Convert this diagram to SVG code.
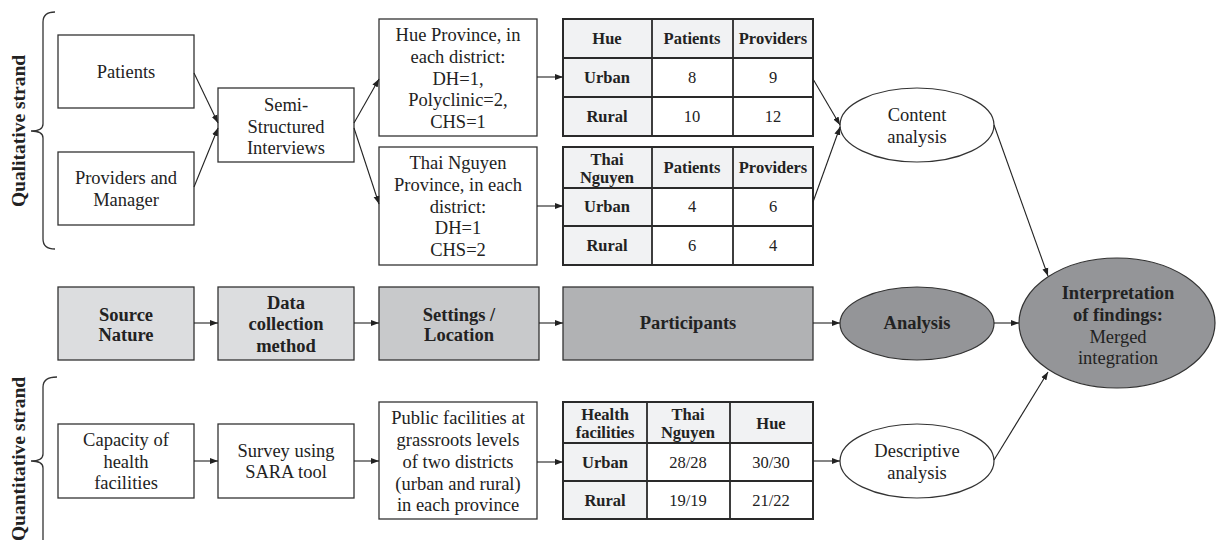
<svg xmlns="http://www.w3.org/2000/svg" width="1216" height="540" viewBox="0 0 1216 540">
<style>
text{font-family:"Liberation Serif","Times New Roman",serif;fill:#222;text-anchor:middle}
.t{font-size:18.5px}
.b{font-size:18.5px;font-weight:bold}
.th{font-size:16.5px;font-weight:bold}
.td{font-size:16.5px}
.side{font-size:19.5px;font-weight:bold}
.box{fill:#fff;stroke:#333;stroke-width:1.3}
.g1{fill:#dcdddf;stroke:#333;stroke-width:1.3}
.g2{fill:#c8c9cb;stroke:#333;stroke-width:1.3}
.g3{fill:#b1b2b4;stroke:#333;stroke-width:1.3}
.ell{fill:#fff;stroke:#333;stroke-width:1.2}
.dark{fill:#949598;stroke:#333;stroke-width:1.2}
.tbl{fill:#fff;stroke:#2a2a2a;stroke-width:2}
.sh{fill:#f1f2f3}
.grid{stroke:#2a2a2a;stroke-width:1.8;fill:none}
.con line{stroke:#222;stroke-width:1.1;marker-end:url(#ah)}
.brace{fill:none;stroke:#333;stroke-width:1.3}
</style>
<defs>
<marker id="ah" markerWidth="8" markerHeight="7" refX="8" refY="3.5" orient="auto" markerUnits="userSpaceOnUse">
<path d="M0,0.5 L8,3.5 L0,6.5 Z" fill="#222"/>
</marker>
</defs>
<rect width="1216" height="540" fill="#fff"/>

<g id="qual-brace">
<path class="brace" d="M55,12 Q43,12 43,22 L43,124 Q43,131 31,131 Q43,131 43,138 L43,239 Q43,249 55,249"/>
<text class="side" transform="translate(25,131) rotate(-90)">Qualitative strand</text>
</g>
<g id="quant-brace">
<path class="brace" d="M57,377 Q43,377 43,387 L43,454 Q43,461 31,461 Q43,461 43,468 L43,545"/>
<text class="side" transform="translate(25,459) rotate(-90)">Quantitative strand</text>
</g>

<g id="patients"><rect class="box" x="58" y="35" width="136" height="73"/><text class="t" x="126" y="78">Patients</text></g>
<g id="providers"><rect class="box" x="58" y="152" width="136" height="73"/><text class="t" x="126" y="184">Providers and</text><text class="t" x="126" y="206">Manager</text></g>
<g id="semi"><rect class="box" x="218" y="88" width="136" height="74"/><text class="t" x="286" y="111">Semi-</text><text class="t" x="286" y="133">Structured</text><text class="t" x="286" y="154">Interviews</text></g>
<g id="hue-box"><rect class="box" x="379" y="19" width="158" height="117"/>
<text class="t" x="458" y="41">Hue Province, in</text><text class="t" x="458" y="63">each district:</text><text class="t" x="458" y="85">DH=1,</text><text class="t" x="458" y="106">Polyclinic=2,</text><text class="t" x="458" y="128">CHS=1</text></g>
<g id="thai-box"><rect class="box" x="379" y="147" width="158" height="118"/>
<text class="t" x="458" y="169">Thai Nguyen</text><text class="t" x="458" y="191">Province, in each</text><text class="t" x="458" y="213">district:</text><text class="t" x="458" y="234">DH=1</text><text class="t" x="458" y="256">CHS=2</text></g>

<g id="hue-table">
<rect class="tbl" x="563" y="19" width="250" height="117"/>
<rect class="sh" x="564" y="20" width="248" height="38"/><rect class="sh" x="564" y="58" width="88" height="77"/>
<path class="grid" d="M563,19 H813 V136 H563 Z M652,19 V136 M733,19 V136 M563,58 H813 M563,97 H813"/>
<text class="th" x="607" y="44">Hue</text><text class="th" x="692" y="44">Patients</text><text class="th" x="773" y="44">Providers</text>
<text class="th" x="607" y="83">Urban</text><text class="td" x="692" y="83">8</text><text class="td" x="773" y="83">9</text>
<text class="th" x="607" y="122">Rural</text><text class="td" x="692" y="122">10</text><text class="td" x="773" y="122">12</text>
</g>
<g id="thai-table">
<rect class="tbl" x="563" y="147" width="250" height="118"/>
<rect class="sh" x="564" y="148" width="248" height="40"/><rect class="sh" x="564" y="188" width="88" height="76"/>
<path class="grid" d="M563,147 H813 V265 H563 Z M652,147 V265 M733,147 V265 M563,188 H813 M563,226 H813"/>
<text class="th" x="607" y="165">Thai</text><text class="th" x="607" y="183">Nguyen</text><text class="th" x="692" y="173">Patients</text><text class="th" x="773" y="173">Providers</text>
<text class="th" x="607" y="212">Urban</text><text class="td" x="692" y="212">4</text><text class="td" x="773" y="212">6</text>
<text class="th" x="607" y="251">Rural</text><text class="td" x="692" y="251">6</text><text class="td" x="773" y="251">4</text>
</g>
<g id="content"><ellipse class="ell" cx="917" cy="125" rx="77" ry="37"/><text class="t" x="917" y="121">Content</text><text class="t" x="917" y="143">analysis</text></g>

<g id="source"><rect class="g1" x="58" y="287" width="136" height="73"/><text class="b" x="126" y="321">Source</text><text class="b" x="126" y="341">Nature</text></g>
<g id="data"><rect class="g1" x="218" y="287" width="136" height="73"/><text class="b" x="286" y="309">Data</text><text class="b" x="286" y="330">collection</text><text class="b" x="286" y="352">method</text></g>
<g id="settings"><rect class="g2" x="379" y="287" width="160" height="73"/><text class="b" x="459" y="321">Settings /</text><text class="b" x="459" y="341">Location</text></g>
<g id="participants"><rect class="g3" x="563" y="287" width="250" height="73"/><text class="b" x="688" y="329">Participants</text></g>
<g id="analysis"><ellipse class="dark" cx="917" cy="323.5" rx="77" ry="36.5"/><text class="b" x="917" y="329">Analysis</text></g>
<g id="interpretation"><ellipse class="dark" cx="1117" cy="323" rx="98" ry="65"/>
<text class="b" x="1118" y="299">Interpretation</text><text class="b" x="1118" y="321">of findings:</text><text class="t" x="1118" y="343">Merged</text><text class="t" x="1118" y="364">integration</text></g>

<g id="capacity"><rect class="box" x="58" y="424" width="136" height="74"/><text class="t" x="126" y="446">Capacity of</text><text class="t" x="126" y="468">health</text><text class="t" x="126" y="489">facilities</text></g>
<g id="survey"><rect class="box" x="218" y="424" width="136" height="74"/><text class="t" x="286" y="457">Survey using</text><text class="t" x="286" y="478">SARA tool</text></g>
<g id="public"><rect class="box" x="379" y="402" width="158" height="117"/>
<text class="t" x="458" y="424">Public facilities at</text><text class="t" x="458" y="446">grassroots levels</text><text class="t" x="458" y="468">of two districts</text><text class="t" x="458" y="490">(urban and rural)</text><text class="t" x="458" y="511">in each province</text></g>
<g id="facility-table">
<rect class="tbl" x="563" y="402" width="250" height="117"/>
<rect class="sh" x="564" y="403" width="248" height="40"/><rect class="sh" x="564" y="443" width="83" height="75"/>
<path class="grid" d="M563,402 H813 V519 H563 Z M647,402 V519 M730,402 V519 M563,443 H813 M563,481 H813"/>
<text class="th" x="605" y="420">Health</text><text class="th" x="605" y="438">facilities</text>
<text class="th" x="688" y="420">Thai</text><text class="th" x="688" y="438">Nguyen</text>
<text class="th" x="771" y="429">Hue</text>
<text class="th" x="605" y="468">Urban</text><text class="td" x="688" y="468">28/28</text><text class="td" x="771" y="468">30/30</text>
<text class="th" x="605" y="506">Rural</text><text class="td" x="688" y="506">19/19</text><text class="td" x="771" y="506">21/22</text>
</g>
<g id="descriptive"><ellipse class="ell" cx="917" cy="461" rx="77" ry="37"/><text class="t" x="917" y="457">Descriptive</text><text class="t" x="917" y="479">analysis</text></g>

<g id="connectors" class="con">
<line x1="194" y1="73" x2="218" y2="123"/>
<line x1="194" y1="187" x2="218" y2="128"/>
<line x1="354" y1="123" x2="379" y2="79"/>
<line x1="354" y1="128" x2="379" y2="204"/>
<line x1="537" y1="77" x2="563" y2="77"/>
<line x1="537" y1="206" x2="563" y2="206"/>
<line x1="813" y1="79" x2="840" y2="125"/>
<line x1="813" y1="202" x2="840" y2="127"/>
<line x1="994" y1="125" x2="1048" y2="276"/>
<line x1="194" y1="323" x2="218" y2="323"/>
<line x1="354" y1="323" x2="379" y2="323"/>
<line x1="539" y1="323" x2="563" y2="323"/>
<line x1="813" y1="323" x2="840" y2="323"/>
<line x1="994" y1="323" x2="1019" y2="323"/>
<line x1="194" y1="461" x2="218" y2="461"/>
<line x1="354" y1="461" x2="379" y2="461"/>
<line x1="537" y1="462" x2="563" y2="462"/>
<line x1="813" y1="461" x2="840" y2="461"/>
<line x1="994" y1="460" x2="1048" y2="372"/>
</g>
</svg>
